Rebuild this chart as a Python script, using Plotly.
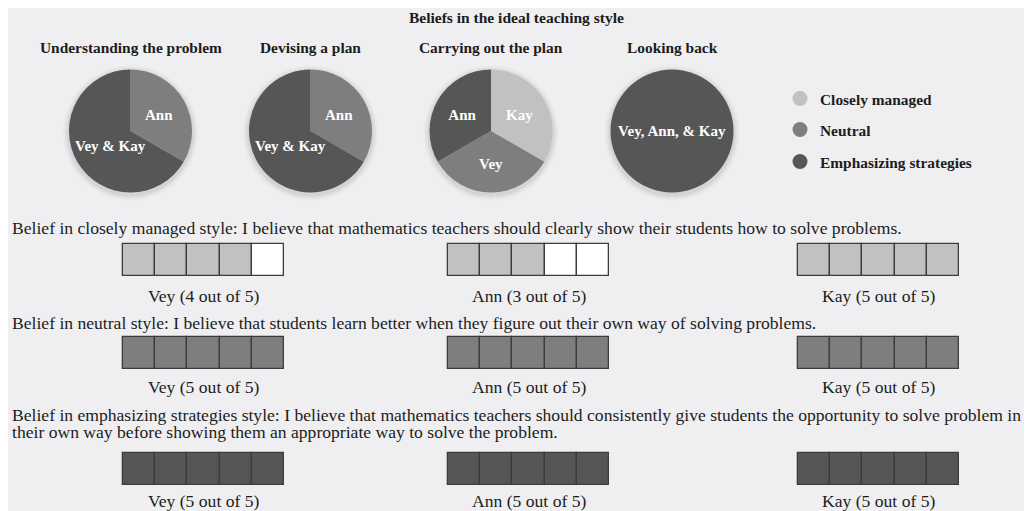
import math
import plotly.graph_objects as go

# The page body has an 8px margin; the figure is drawn in page pixels minus this offset.
OFF = 8
W, H = 1032 - OFF, 511 - OFF

# ---------------- data ----------------
main_title = "Beliefs in the ideal teaching style"
phases = ["Understanding the problem", "Devising a plan", "Carrying out the plan", "Looking back"]
styles = ["Closely managed", "Neutral", "Emphasizing strategies"]
style_colors = {"Closely managed": "#c1c1c1", "Neutral": "#7e7e7e", "Emphasizing strategies": "#565656"}

pie_labels = [
    ["Neutral", "Emphasizing strategies"],
    ["Neutral", "Emphasizing strategies"],
    ["Closely managed", "Neutral", "Emphasizing strategies"],
    ["Emphasizing strategies"],
]
pie_people = [
    ["Ann", "Vey & Kay"],
    ["Ann", "Vey & Kay"],
    ["Kay", "Vey", "Ann"],
    ["Vey, Ann, & Kay"],
]
pie_counts = [
    [1, 2],
    [1, 2],
    [1, 1, 1],
    [3],
]

people = ["Vey", "Ann", "Kay"]
max_score = 5
closely_scores = [4, 3, 5]
neutral_scores = [5, 5, 5]
emphasizing_scores = [5, 5, 5]
row_scores = [closely_scores, neutral_scores, emphasizing_scores]
row_styles = ["Closely managed", "Neutral", "Emphasizing strategies"]
statements = [
    ["Belief in closely managed style: I believe that mathematics teachers should clearly show their students how to solve problems."],
    ["Belief in neutral style: I believe that students learn better when they figure out their own way of solving problems."],
    ["Belief in emphasizing strategies style: I believe that mathematics teachers should consistently give students the opportunity to solve problem in",
     "their own way before showing them an appropriate way to solve the problem."],
]

# ---------------- layout constants (page pixels) ----------------
SERIF = "Liberation Serif, Times New Roman, serif"
TXT = "#1c1c1c"
BODY_SIZE = 17.6
pie_cx = [130.5, 310.5, 491, 672]
pie_cy = 131
pie_r = 61.5
group_left = [123, 448, 798]
box_w, box_h = 32.2, 32.5
row_box_top = [243.5, 336.5, 452.5]
row_label_y = [296, 387, 501]
row_stmt_y = [[228], [323], [415, 432]]
legend_x = 780
legend_y = [99, 130, 162]
empty_color = "#ffffff"
border_color = "#3c3c3c"


def X(v):
    return v - OFF


def Y(v):
    return v - OFF


fig = go.Figure()
ann = []

# ---------------- pies ----------------
for k in range(len(phases)):
    cx = pie_cx[k]
    total = sum(pie_counts[k])
    texts = []
    cum = 0
    for j, v in enumerate(pie_counts[k]):
        share = v / total
        if 0.5 < share < 1:
            # large slice: put the label along the slice bisector
            mid = (cum + v / 2) / total * 2 * math.pi
            rr = 0.42 * pie_r
            ann.append(dict(x=X(cx + rr * math.sin(mid)) + 2, y=Y(pie_cy - rr * math.cos(mid)) + 2,
                            text=f"<b>{pie_people[k][j]}</b>", showarrow=False, xref="x", yref="y",
                            font=dict(family=SERIF, size=15, color="white"),
                            xanchor="center", yanchor="middle"))
            texts.append("")
        else:
            texts.append(pie_people[k][j])
        cum += v
    fig.add_trace(go.Pie(
        labels=pie_labels[k],
        values=pie_counts[k],
        text=texts,
        textinfo="text",
        textposition="inside",
        insidetextorientation="horizontal",
        textfont=dict(family=SERIF, size=15, color="white", weight="bold"),
        marker=dict(colors=[style_colors[s] for s in pie_labels[k]], line=dict(width=0)),
        sort=False,
        direction="clockwise",
        rotation=0,
        showlegend=False,
        hoverinfo="skip",
        domain=dict(x=[X(cx - pie_r) / W, X(cx + pie_r) / W],
                    y=[1 - Y(pie_cy + pie_r) / H, 1 - Y(pie_cy - pie_r) / H]),
    ))

# ---------------- legend (three single-entry legends) ----------------
legend_names = ["legend", "legend2", "legend3"]
for i, s in enumerate(styles):
    fig.add_trace(go.Scatter(
        x=[None], y=[None], mode="markers", name=s,
        marker=dict(size=15, color=style_colors[s], symbol="circle"),
        legend=legend_names[i], hoverinfo="skip",
    ))

# ---------------- rating boxes ----------------
for r, scores in enumerate(row_scores):
    xs, bases, colors = [], [], []
    for g, sc in enumerate(scores):
        for i in range(max_score):
            xs.append(X(group_left[g] + (i + 0.5) * box_w))
            bases.append(Y(row_box_top[r]))
            colors.append(style_colors[row_styles[r]] if i < sc else empty_color)
    fig.add_trace(go.Bar(
        x=xs, y=[box_h] * len(xs), base=bases, width=box_w,
        marker=dict(color=colors, line=dict(color=border_color, width=1.3)),
        showlegend=False, hoverinfo="skip",
    ))

# ---------------- shapes: pie shadows ----------------
shapes = []
for cx in pie_cx:
    for d, a in [(6, 0.025), (4, 0.035), (2, 0.05)]:
        shapes.append(dict(type="circle", xref="x", yref="y",
                           x0=X(cx - pie_r - d), x1=X(cx + pie_r + d),
                           y0=Y(pie_cy - pie_r - d + 2), y1=Y(pie_cy + pie_r + d + 2),
                           fillcolor=f"rgba(0,0,0,{a})", line=dict(width=0), layer="below"))

# ---------------- annotations ----------------
ann.append(dict(x=X(516), y=0, text=f"<b>{main_title}</b>", showarrow=False, xref="x", yref="y",
                font=dict(family=SERIF, size=15.5, color=TXT), xanchor="center", yanchor="top",
                borderpad=0))
for k, p in enumerate(phases):
    ann.append(dict(x=X(pie_cx[k]), y=Y(47), text=f"<b>{p}</b>", showarrow=False, xref="x", yref="y",
                    font=dict(family=SERIF, size=15.4, color=TXT), xanchor="center", yanchor="middle"))
for r in range(len(row_scores)):
    for j, line in enumerate(statements[r]):
        ann.append(dict(x=X(10), y=Y(row_stmt_y[r][j]), text=line, showarrow=False, xref="x", yref="y",
                        font=dict(family=SERIF, size=BODY_SIZE, color=TXT), xanchor="left", yanchor="middle"))
    for g, name in enumerate(people):
        ann.append(dict(x=X(group_left[g] + max_score * box_w / 2), y=Y(row_label_y[r]),
                        text=f"{name} ({row_scores[r][g]} out of {max_score})",
                        showarrow=False, xref="x", yref="y",
                        font=dict(family=SERIF, size=BODY_SIZE, color=TXT), xanchor="center", yanchor="middle"))

legend_common = dict(xref="paper", yref="paper", xanchor="left", yanchor="middle",
                     bgcolor="rgba(0,0,0,0)", borderwidth=0,
                     font=dict(family=SERIF, size=15.4, color=TXT, weight="bold"))

fig.update_layout(
    width=W, height=H,
    margin=dict(l=0, r=0, t=0, b=0),
    paper_bgcolor="#efeff1", plot_bgcolor="rgba(0,0,0,0)",
    xaxis=dict(range=[0, W], visible=False, fixedrange=True, domain=[0, 1]),
    yaxis=dict(range=[H, 0], visible=False, fixedrange=True, domain=[0, 1]),
    barmode="overlay", bargap=0,
    shapes=shapes, annotations=ann,
    legend=dict(x=X(legend_x) / W, y=1 - Y(legend_y[0]) / H, **legend_common),
    legend2=dict(x=X(legend_x) / W, y=1 - Y(legend_y[1]) / H, **legend_common),
    legend3=dict(x=X(legend_x) / W, y=1 - Y(legend_y[2]) / H, **legend_common),
)

fig.write_html("out.html")
